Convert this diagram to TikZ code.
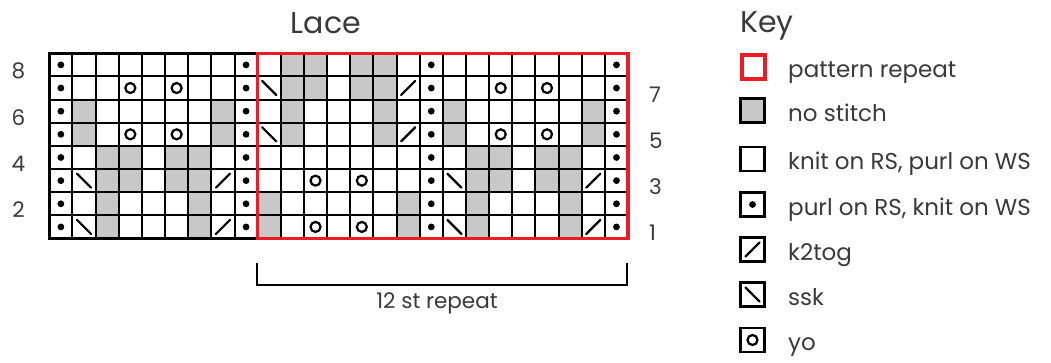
\documentclass[tikz,border=0pt]{standalone}
\usepackage{fontspec}
\setmainfont{Poppins}
\definecolor{txt}{HTML}{3A3A3A}
\definecolor{nost}{HTML}{C8C8C8}
\definecolor{rep}{HTML}{ED1C24}
\def\kcn{}
\def\kcg{\fill[nost] (\xl,\yt) rectangle ++(23.15,23.15);}
\def\kcp{\fill[black] (\xl+11.575,\yt+11.575) circle (3.4);}
\def\kco{\draw[sym] (\xl+11.575,\yt+11.575) circle (5);}
\def\kcs{\draw[sym] (\xl+4.5,\yt+4.5) -- (\xl+18.65,\yt+18.65);}
\def\kck{\draw[sym] (\xl+4.5,\yt+18.65) -- (\xl+18.65,\yt+4.5);}
\tikzset{
  gridline/.style={line width=2pt, black},
  sym/.style={line width=2.2pt, black, line cap=round},
  numlbl/.style={font=\fontsize{21.5}{21.5}\selectfont, text=txt, inner sep=0pt},
  keytxt/.style={font=\fontsize{23}{23}\selectfont, text=txt, inner sep=0pt, anchor=base west},
  titletxt/.style={font=\fontsize{30}{30}\selectfont, text=txt, inner sep=0pt},
  keybox/.style={line width=2.5pt, black},
}
\begin{document}
\begin{tikzpicture}[x=1pt,y=-1pt]
\useasboundingbox (0,0) rectangle (1051,362);
\fill[white] (0,0) rectangle (1051,362);
% cells
\foreach \rowlist [count=\j] in {
 {p,n,n,n,n,n,n,n,p,n,g,g,n,g,g,n,p,n,n,n,n,n,n,n,p},
 {p,n,n,o,n,o,n,n,p,s,g,g,n,g,g,k,p,n,n,o,n,o,n,n,p},
 {p,g,n,n,n,n,n,g,p,n,g,n,n,n,g,n,p,g,n,n,n,n,n,g,p},
 {p,g,n,o,n,o,n,g,p,s,g,n,n,n,g,k,p,g,n,o,n,o,n,g,p},
 {p,n,g,g,n,g,g,n,p,n,n,n,n,n,n,n,p,n,g,g,n,g,g,n,p},
 {p,s,g,g,n,g,g,k,p,n,n,o,n,o,n,n,p,s,g,g,n,g,g,k,p},
 {p,n,g,n,n,n,g,n,p,g,n,n,n,n,n,g,p,n,g,n,n,n,g,n,p},
 {p,s,g,n,n,n,g,k,p,g,n,o,n,o,n,g,p,s,g,n,n,n,g,k,p}}{
  \foreach \c [count=\i] in \rowlist {
    \pgfmathsetmacro\xl{49.3+(\i-1)*23.15}
    \pgfmathsetmacro\yt{53.3+(\j-1)*23.15}
    \csname kc\c\endcsname
  }
}
% grid
\foreach \i in {1,...,24} \draw[gridline] (49.3+\i*23.15,53.3) -- (49.3+\i*23.15,238.5);
\foreach \j in {1,...,7} \draw[gridline] (49.3,53.3+\j*23.15) -- (628.05,53.3+\j*23.15);
\draw[line width=2.8pt] (49.3,53.3) rectangle (628.05,238.5);
% repeat box
\draw[rep, line width=3.6pt] (257.65,53.3) rectangle (628.05,238.5);
% row numbers
\foreach \n/\j in {8/1,6/3,4/5,2/7}
  \node[numlbl, anchor=base] (l\n) at (18.5,53.3+\j*23.15-11.575+14) {\n};
\foreach \n/\j in {7/2,5/4,3/6,1/8}
  \node[numlbl, anchor=base west] (r\n) at (649,53.3+\j*23.15-11.575+14) {\n};
% titles
\node[titletxt, anchor=base] (lace) at (326,33) {Lace};
\node[titletxt, anchor=base west] (key) at (740,32) {Key};
% bracket
\coordinate (bl) at (257.3,262.7);
\coordinate (br) at (627.3,262.7);
\draw[line width=2pt] (bl) -- (bl |- 0,285) -- (br |- 0,285) -- (br);
\node[numlbl, anchor=base] (rep) at (437,308) {12 st repeat};
% key
\draw[rep, line width=4pt] (742,54.5) rectangle (765,78.5);
\node[keytxt] (k1) at (788,77) {pattern repeat};
\filldraw[keybox, fill=nost] (740.5,98.5) rectangle (764.5,122.5);
\node[keytxt] (k2) at (788,121) {no stitch};
\draw[keybox] (740.5,147) rectangle (764.5,171);
\node[keytxt] (k3) at (788,169.5) {knit on RS, purl on WS};
\draw[keybox] (740.5,192.5) rectangle (764.5,216.5);
\fill[black] (752.5,204.5) circle (3.4);
\node[keytxt] (k4) at (788,215) {purl on RS, knit on WS};
\draw[keybox] (740.5,237.5) rectangle (764.5,261.5);
\draw[sym] (745.5,256.5) -- (759.5,242.5);
\node[keytxt] (k5) at (788,260) {k2tog};
\draw[keybox] (740.5,282.5) rectangle (764.5,306.5);
\draw[sym] (745.5,287.5) -- (759.5,301.5);
\node[keytxt] (k6) at (788,305) {ssk};
\draw[keybox] (740.5,328) rectangle (764.5,352);
\draw[sym] (752.5,340) circle (5);
\node[keytxt] (k7) at (788,350.5) {yo};
\end{tikzpicture}
\end{document}
